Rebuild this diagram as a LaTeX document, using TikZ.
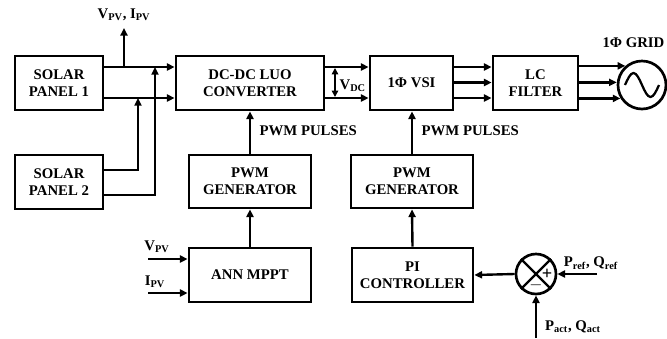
\documentclass[tikz,border=0pt]{standalone}
\usepackage{fontspec}
\setmainfont{Liberation Serif}
\usetikzlibrary{arrows.meta, positioning, calc}
\tikzset{
  every picture/.style={font=\fontsize{10.5}{12}\selectfont\bfseries, line width=1.7pt},
  box/.style={draw, align=center, inner sep=2pt, line width=1.9pt},
  arrow/.style={-{Triangle[length=5.5pt, width=5pt]}},
  dblarrow/.style={{Triangle[length=4.5pt, width=4.5pt]}-{Triangle[length=4.5pt, width=4.5pt]}},
  lbl/.style={inner sep=1pt},
}

\begin{document}
\begin{tikzpicture}[x=0.025cm, y=-0.025cm]
  \useasboundingbox (0,0) rectangle (667,338);
  % power path: panels, converter, inverter, filter, grid
  \node[box, minimum width=2.2cm, minimum height=1.35cm] (sp1) at (59,83) {SOLAR\\PANEL 1};
  \node[box, minimum width=2.2cm, minimum height=1.35cm] (sp2) at (59,182) {SOLAR\\PANEL 2};
  \node[box, minimum width=3.7cm, minimum height=1.35cm] (conv) at (250,83) {DC-DC LUO\\CONVERTER};
  \node[box, minimum width=2.075cm, minimum height=1.35cm] (vsi) at (411.5,83) {1Φ VSI};
  \node[box, minimum width=2.125cm, minimum height=1.35cm] (lcf) at (535.5,83) {LC\\FILTER};
  \node[draw, circle, minimum size=1.2cm, inner sep=0pt, line width=1.9pt] (grid) at (642,85) {};
  \draw[shift={(grid.center)}, line width=1.6pt] (-17,0) sin (-8.5,-12) cos (0,0) sin (8.5,12) cos (17,0);
  \node[lbl, anchor=east] (gridlbl) at (667,43) {1Φ GRID};
  % control path
  \node[box, minimum width=3.05cm, minimum height=1.325cm] (pwma) at (250,181.5) {PWM\\GENERATOR};
  \node[box, minimum width=3.05cm, minimum height=1.35cm] (ann) at (250,275) {ANN MPPT};
  \node[box, minimum width=3.05cm, minimum height=1.325cm] (pwmb) at (412,181.5) {PWM\\GENERATOR};
  \node[box, minimum width=3.025cm, minimum height=1.35cm] (pic) at (412.5,275) {PI\\CONTROLLER};
  \node[draw, circle, minimum size=1cm, inner sep=0pt, line width=1.9pt] (sum) at (536,274) {};
  \draw[line width=1.6pt] (sum.45) -- (sum.225) (sum.135) -- (sum.315);
  \node[lbl, font=\fontsize{13}{13}\selectfont\bfseries] (plus) at ($(sum)+(11,0)$) {+};
  \node[lbl, font=\fontsize{13}{13}\selectfont\bfseries] (minus) at ($(sum)+(0,11)$) {$\mathbf{-}$};
  % panel outputs into the converter
  \coordinate (up) at (0,67);
  \coordinate (lo) at (0,98);
  \coordinate (ja) at (138,98);
  \coordinate (jb) at (155,67);
  \draw[arrow] (sp1.east |- up) -- (conv.west |- up);
  \draw[arrow] (sp1.east |- lo) -- (conv.west |- lo);
  \draw[arrow] (sp2.east |- 0,170) -| (ja);
  \draw[arrow] (sp2.east |- 0,195) -| (jb);
  \node[lbl] (vpv) at (124,15) {V\textsubscript{PV}, I\textsubscript{PV}};
  \draw[arrow] (vpv.south |- up) -- ([yshift=-3pt]vpv.south);
  % dc link
  \draw[arrow] (conv.east |- up) -- (vsi.west |- up);
  \draw[arrow] (conv.east |- lo) -- (vsi.west |- lo);
  \coordinate (vdct) at (335,68);
  \coordinate (vdcb) at (335,97);
  \draw[dblarrow] (vdct) -- (vdcb);
  \node[lbl, anchor=west] (vdc) at (337,86) {V\textsubscript{DC}};
  % ac side
  \foreach \yy in {67,82.5,98}
    \draw[arrow] (vsi.east |- 0,\yy) -- (lcf.west |- 0,\yy);
  \foreach \aa in {131.4,174,212.8}
    \draw[arrow] (lcf.east |- grid.\aa) -- (grid.\aa);
  % gate signals
  \draw[arrow] (pwma.north) -- (conv.south);
  \node[lbl, anchor=west] (pulsea) at (257,131) {PWM PULSES};
  \draw[arrow] (pwmb.north) -- (vsi.south -| pwmb.north);
  \node[lbl, anchor=west] (pulseb) at (419,131) {PWM PULSES};
  \draw[arrow] (ann.north) -- (pwma.south);
  \draw[arrow] (pic.north) -- (pwmb.south);
  % mppt inputs
  \coordinate (vin) at (148,259);
  \coordinate (iin) at (148,293);
  \draw[arrow] (vin) -- (ann.west |- vin);
  \draw[arrow] (iin) -- (ann.west |- iin);
  \node[lbl] (vinlbl) at (157,247) {V\textsubscript{PV}};
  \node[lbl] (iinlbl) at (155,282) {I\textsubscript{PV}};
  % power error loop
  \coordinate (pref) at (597,274);
  \coordinate (pact) at (536,338);
  \draw[arrow] (pref) -- (sum.east);
  \draw[arrow] (pact) -- (sum.south);
  \draw[arrow] (sum.west) -- (pic.east);
  \node[lbl] (preflbl) at (591,263) {P\textsubscript{ref}, Q\textsubscript{ref}};
  \node[lbl] (pactlbl) at (573,327) {P\textsubscript{act}, Q\textsubscript{act}};
\end{tikzpicture}
\end{document}
